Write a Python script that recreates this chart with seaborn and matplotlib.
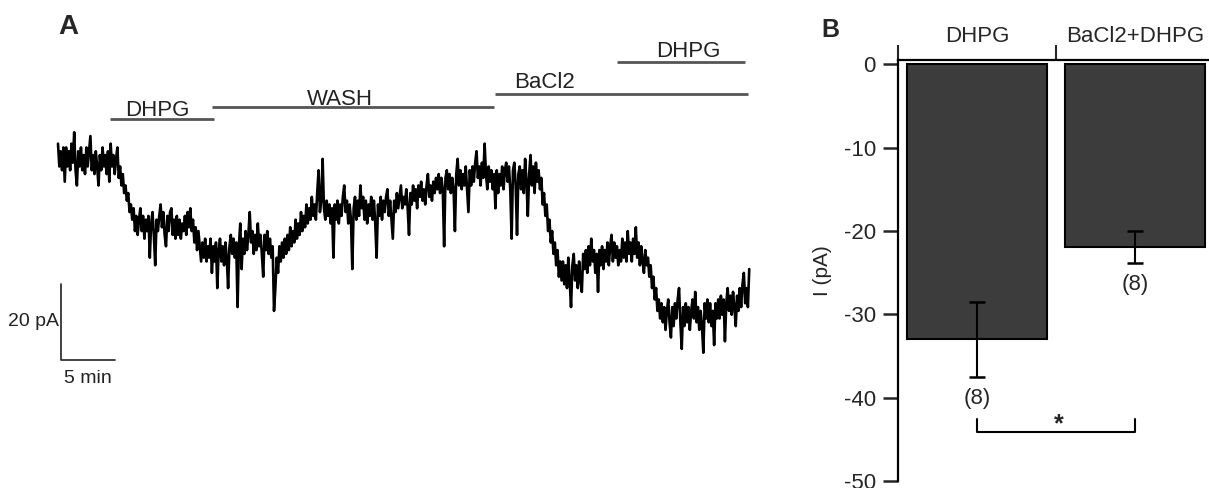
import matplotlib
matplotlib.use('Agg')
import matplotlib.pyplot as plt
import numpy as np
import pandas as pd
import seaborn as sns

# ---- data -------------------------------------------------------------
# Panel A: holding current trace (pA, relative to baseline), one sample every 0.125 min
sample_step_min = 0.125
trace_pA = [
    # baseline (0 - 5.5 min)
    3, -3, 1, -4, 2, -7, 2, -3, 1, -4, 3, -2, 6, -4, -8, 1, -3, 2, -4, 0, -5, 2, -3, 1,
    5, -4, 0, -5, 1, -3, -8, 0, -4, 2, -3, 0, -5, 1, -7, 3, -3, 0, -5, -1, 2,
    # DHPG
    -6, -3, -8, -5, -10, -8, -12, -10, -15, -13, -17, -14,
    -20, -16, -21, -17, -14, -20, -16, -22, -17, -20, -16, -27, -18, -15, -21, -29,
    -17, -20, -16, -13, -19, -15, -21, -24, -16, -20, -15, -14, -21, -17, -22, -16,
    -21, -17, -22, -18, -20, -16, -21, -15, -19, -14, -20, -17, -23, -19, -25, -20, -24, -28,
    -23, -27, -22, -28, -24, -27, -22, -31, -24, -28, -23, -35, -25, -22, -28, -24,
    -29, -23, -27, -35,
    # wash
    -24, -21, -26, -22, -27, -23, -40, -24, -18, -30, -22, -26, -20, -25, -21, -15,
    -23, -20, -26, -21, -25, -18, -24, -21, -26, -32, -21, -25, -20, -26, -22, -27, -24, -41,
    -35, -27, -31, -24, -28, -23, -27, -22, -26, -21, -25, -19, -24, -20, -23, -17,
    -22, -18, -21, -15, -20, -16, -19, -13, -18, -14, -17, -11, -16, -13, -17, -10,
    -4, -15, -12, -1, -14, -17,
    -12, -16, -13, -18, -14, -27, -13, -17, -12, -18, -13, -16, -11, -8, -15, -12,
    -18, -13, -17, -30, -14, -11, -17, -12, -16, -8, -14, -11, -17, -12, -18, -13,
    -16, -11, -17, -12, -18, -27, -13, -16, -11, -17, -12, -15, -11, -9, -16, -12,
    -17, -22, -12, -15, -10, -14, -11, -8, -14, -11,
    -13, -9, -14, -21, -10, -13, -8, -12, -9, -14, -8, -11, -7, -12, -9, -13,
    -8, -5, -11, -8, -12, -7, -10, -6,
    -9, -5, -10, -6, -9, -24, -6, -4, -9, -5, -10, -6, -9, -20, -5, -1,
    -8, -4, -9, -5, -8, -3, -9, -15, -4, -8, -3, -7, -2, 1, -6, -3,
    -8, -2, -6, 3, -5, -9, -3, -7, -4, -9, -5, -14, -4, -10, -5, -8,
    -3, -9, -4, -2,
    # BaCl2
    -7, -3, -9, -22, -4, -2, -8, -21, -5, -3, -9, -4, -10, -1, -7, -16,
    -5, 0, -8, -3, -10, -2, -7, -4,
    -9, -6, -13, -10, -16, -13, -20, -17, -23, -20, -26, -23, -29, -25, -32, -28,
    -33, -28, -34, -29, -35, -27, -33, -40, -29, -26, -33, -29, -35, -28, -33, -36,
    -26, -30, -25, -31, -24, -29, -22, -28, -25, -31, -26, -36, -25, -29, -24, -30,
    -25, -28, -23, -29, -24, -21, -28, -23, -27, -24, -29, -25,
    -28, -22, -27, -23, -28, -20, -26, -23, -28, -22, -26, -19, -27, -23, -29, -24,
    -28, -31, -25, -29,
    # BaCl2 + DHPG
    -27, -32, -29, -35, -32, -38, -35, -41, -38,
    -43, -39, -44, -40, -46, -41, -38, -44, -48, -40, -45, -39, -43, -38, -35, -44,
    -51, -40, -45, -39, -44, -40, -46, -41, -38, -43, -36, -44, -40, -46, -41, -45,
    -52, -39, -43, -38, -44, -39, -45, -41, -50, -39, -43,
    -38, -43, -37, -42, -38, -49, -39, -35, -41, -37, -42, -36, -40, -45, -37, -41,
    -35, -40, -34, -31, -39, -35, -40, -30,
]

# drug applications (minutes)
drug_labels = ['DHPG', 'WASH', 'BaCl2', 'DHPG']
drug_start = [4.8, 14.3, 40.5, 51.8]
drug_end = [14.4, 40.4, 63.9, 63.6]

# scale bar
scale_pA = 20
scale_min = 5

# Panel B: mean current and SEM
conditions = ['DHPG', 'BaCl2+DHPG']
mean_pA = [-33.0, -21.9]
sem_pA = [4.5, 1.9]
n_cells = [8, 8]

# ---- figure -----------------------------------------------------------
sns.set_style('white')
plt.rcParams['font.family'] = ['Liberation Sans', 'DejaVu Sans']
plt.rcParams['axes.unicode_minus'] = False

W, H = 1209, 488
fig = plt.figure(figsize=(W / 100, H / 100), dpi=100)

# panel A: trace, drawn on a hidden axis in minutes / pA
ax_a = fig.add_axes([0, 0, 800 / W, 1])
df_trace = pd.DataFrame({'time': np.arange(len(trace_pA)) * sample_step_min,
                         'current': trace_pA})
sns.lineplot(data=df_trace, x='time', y='current', color='black', linewidth=1.9, ax=ax_a)
ax_a.set_xlim(-5.37, 68.7)
ax_a.set_ylim(-87.6, 40.8)
ax_a.axis('off')

bar_level = [9.5, 12.6, 16.0, 24.5]
text_x = [9.2, 26.1, 45.0, 58.4]
text_y = [10.3, 13.2, 17.6, 25.8]
for lab, s, e, lv, tx, ty in zip(drug_labels, drug_start, drug_end, bar_level, text_x, text_y):
    ax_a.plot([s, e], [lv, lv], color='#555555', linewidth=2, solid_capstyle='butt')
    ax_a.text(tx, ty, lab, ha='center', va='baseline', fontsize=16, color='#222222')

# scale bar
sx, sy = 0.28, -53.9
ax_a.plot([sx, sx, sx + scale_min], [sy + scale_pA, sy, sy], color='#222222', linewidth=1.2)
ax_a.text(sx - 0.2, sy + scale_pA / 2, f'{scale_pA} pA', ha='right', va='center',
          fontsize=14, color='#222222')
ax_a.text(sx + scale_min / 2, sy - 2.6, f'{scale_min} min', ha='center', va='top',
          fontsize=14, color='#222222')

# panel B: bar chart
ax_b = fig.add_axes([898 / W, 1 - 481 / H, (1214 - 898) / W, (481 - 60) / H])
df_bar = pd.DataFrame({'condition': conditions, 'current': mean_pA})
sns.barplot(data=df_bar, x='condition', y='current', color='#3c3c3c', saturation=1,
            edgecolor='black', linewidth=1.5, width=0.89, errorbar=None, ax=ax_b)
ax_b.errorbar(x=range(len(conditions)), y=mean_pA, yerr=sem_pA, fmt='none',
              ecolor='black', elinewidth=1.5, capsize=6, capthick=1.8, zorder=5)
for i, (m, s, n) in enumerate(zip(mean_pA, sem_pA, n_cells)):
    ax_b.text(i, m - s - 2.6, f'({n})', ha='center', va='center', fontsize=16)

# significance bracket
ax_b.plot([0, 0, 1, 1], [-42.6, -44.1, -44.1, -42.6], color='black', linewidth=1.5)
ax_b.text(0.52, -43.2, '*', ha='center', va='center', fontsize=18, fontweight='bold')

ax_b.set_xlim(-0.5, 1.5)
ax_b.set_ylim(-50, 0.5)
ax_b.set_yticks([0, -10, -20, -30, -40, -50])
ax_b.set_xlabel('')
ax_b.set_ylabel('I (pA)', fontsize=15, labelpad=8)
ax_b.xaxis.tick_top()
ax_b.set_xticks([-0.5, 0.5], minor=True)
ax_b.tick_params(axis='x', which='major', length=0, pad=9, labelsize=16)
ax_b.tick_params(axis='x', which='minor', length=11, width=1.5, direction='out')
ax_b.tick_params(axis='y', length=11, width=1.8, direction='out', pad=5, labelsize=16, left=True)
for side in ['right', 'bottom']:
    ax_b.spines[side].set_visible(False)
for side in ['top', 'left']:
    ax_b.spines[side].set_linewidth(1.6)
    ax_b.spines[side].set_color('black')

# panel letters
fig.text(68 / W, 1 - 27 / H, 'A', fontsize=20, fontweight='bold', ha='center', va='center')
fig.text(830 / W, 1 - 30 / H, 'B', fontsize=18, fontweight='bold', ha='center', va='center')

fig.savefig('out.png', dpi=100)
